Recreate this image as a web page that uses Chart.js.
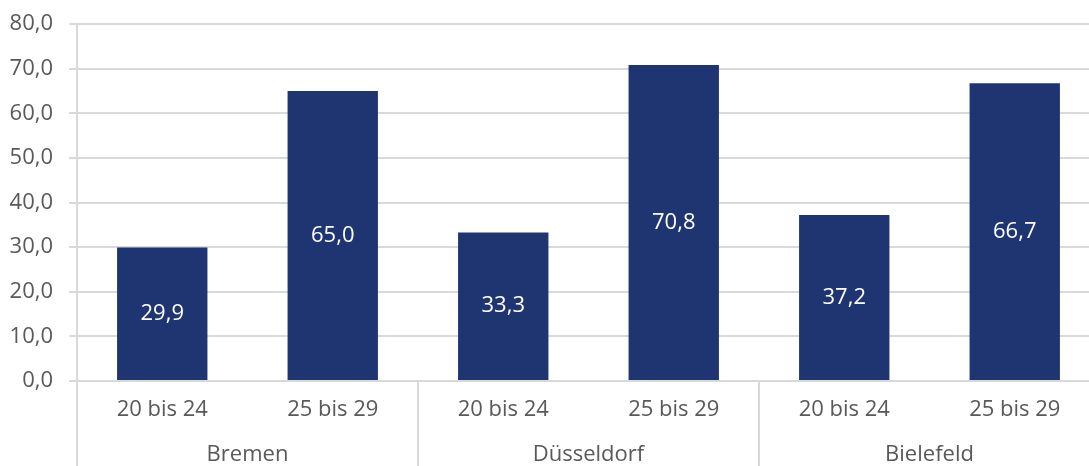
<!DOCTYPE html>
<html>
<head>
<meta charset="utf-8">
<script src="https://cdn.jsdelivr.net/npm/chart.js@4/dist/chart.umd.min.js"></script>
<style>
    html, body { margin: 0; padding: 0; background: #fff; overflow: hidden; }
    #wrap { width: 1100px; height: 466px; }
</style>
</head>
<body>
<div id="wrap"><canvas id="grafica"></canvas></div>
<script>
const altersgruppen = ['20 bis 24', '25 bis 29', '20 bis 24', '25 bis 29', '20 bis 24', '25 bis 29'];
const staedte = ['Bremen', 'Düsseldorf', 'Bielefeld'];
const werte = [29.9, 65.0, 33.3, 70.8, 37.2, 66.7];

const grau = '#d9d9d9';
const textFarbe = '#595959';
const schrift = { family: "'Open Sans', 'Noto Sans', sans-serif", size: 22 };

function zahlFormat(v) {
    return v.toFixed(1).replace('.', ',');
}

// Werte weiss in die Mitte der Balken schreiben
const balkenWerte = {
    id: 'balkenWerte',
    afterDatasetsDraw(chart) {
        const ctx = chart.ctx;
        const meta = chart.getDatasetMeta(0);
        ctx.save();
        ctx.fillStyle = '#ffffff';
        ctx.font = `${schrift.size}px ${schrift.family}`;
        ctx.textAlign = 'center';
        ctx.textBaseline = 'middle';
        meta.data.forEach((bar, i) => {
            ctx.fillText(zahlFormat(werte[i]), bar.x, (bar.y + bar.base) / 2);
        });
        ctx.restore();
    }
};

// Trennlinien zwischen den Städten unterhalb der Achse
const trennLinien = {
    id: 'trennLinien',
    afterDraw(chart) {
        const xs = chart.scales.x;
        const breite = xs.getPixelForValue(1) - xs.getPixelForValue(0);
        const ctx = chart.ctx;
        ctx.save();
        ctx.strokeStyle = grau;
        ctx.lineWidth = 2;
        for (let i = 0; i <= altersgruppen.length; i += 2) {
            const x = Math.round(xs.getPixelForValue(0) - breite / 2 + i * breite);
            ctx.beginPath();
            ctx.moveTo(x, chart.chartArea.bottom);
            ctx.lineTo(x, chart.height);
            ctx.stroke();
        }
        ctx.restore();
    }
};

const ctx = document.getElementById('grafica').getContext('2d');
new Chart(ctx, {
    type: 'bar',
    data: {
        labels: altersgruppen,
        datasets: [{
            data: werte,
            backgroundColor: '#1f3572',
            borderWidth: 0,
            barPercentage: 0.53,
            categoryPercentage: 1.0
        }]
    },
    options: {
        responsive: true,
        maintainAspectRatio: false,
        animation: false,
        layout: { padding: { top: 24, left: 0, right: 0, bottom: 0 } },
        plugins: {
            legend: { display: false },
            tooltip: { enabled: false }
        },
        scales: {
            y: {
                min: 0,
                max: 80,
                ticks: {
                    stepSize: 10,
                    color: textFarbe,
                    font: schrift,
                    padding: 16,
                    callback: (v) => zahlFormat(v)
                },
                grid: { color: grau, lineWidth: 2, tickLength: 8 },
                border: { color: grau, width: 2 },
                afterFit(scale) {
                    scale.width = 77;
                    scale.paddingTop = 0;
                    scale.paddingBottom = 0;
                }
            },
            x: {
                weight: 0,
                ticks: { color: textFarbe, font: schrift, padding: 16, maxRotation: 0 },
                grid: { display: false, drawTicks: false },
                border: { display: false },
                afterFit(scale) { scale.height = 42; }
            },
            x2: {
                type: 'category',
                position: 'bottom',
                weight: 1,
                labels: staedte,
                offset: true,
                ticks: { color: textFarbe, font: schrift, padding: 19, maxRotation: 0 },
                grid: { display: false, drawTicks: false },
                border: { display: false },
                afterFit(scale) { scale.height = 43; }
            }
        }
    },
    plugins: [balkenWerte, trennLinien]
});
</script>
</body>
</html>
